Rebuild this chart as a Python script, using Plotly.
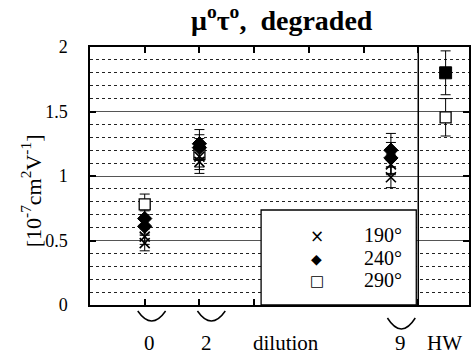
import plotly.graph_objects as go

# ---- data ----
categories = ["0", "2", "9", "HW"]
cat_pos = {"0": 1, "2": 2, "9": 5.5, "HW": 6.5}

s190_cat = ["0", "0", "2", "2", "9", "9"]
s190_val = [0.48, 0.53, 1.11, 1.15, 0.99, 1.09]
s190_err = [0.06, 0.06, 0.09, 0.08, 0.08, 0.08]

s240_cat = ["0", "0", "2", "2", "9", "9"]
s240_val = [0.61, 0.67, 1.22, 1.25, 1.14, 1.20]
s240_err = [0.06, 0.06, 0.10, 0.11, 0.12, 0.13]

s290_cat = ["0", "2", "HW"]
s290_val = [0.78, 1.17, 1.455]
s290_err = [0.08, 0.12, 0.145]

hw_cat = ["HW"]
hw_val = [1.80]
hw_err = [0.17]

legend_labels = ["190°", "240°", "290°"]
y_ticks = [0, 0.5, 1, 1.5, 2]
y_ticktext = ["0", "0.5", "1", "1.5", "2"]

W, H = 471, 356
L, R, T, B = 90, 471, 47, 305
FONT = "Times New Roman, Liberation Serif, DejaVu Serif, serif"

def px(x):
    return (x - L) / (R - L)

def py(y):
    return (B - y) / (B - T)

fig = go.Figure()

def add_series(cats, vals, errs, symbol, size, color, lcolor, lw, name):
    fig.add_trace(go.Scatter(
        x=[cat_pos[c] for c in cats], y=vals, mode="markers", name=name,
        showlegend=False,
        marker=dict(symbol=symbol, size=size, color=color,
                    line=dict(color=lcolor, width=lw)),
        error_y=dict(type="data", array=errs, visible=True, color="black",
                     thickness=1, width=5),
    ))

add_series(s290_cat, s290_val, s290_err, "square", 11, "white", "black", 1.3, legend_labels[2])
add_series(hw_cat, hw_val, hw_err, "square", 12, "black", "black", 1, "HW")
add_series(s190_cat, s190_val, s190_err, "x-thin-open", 10, "black", "black", 1.6, legend_labels[0])
add_series(s240_cat, s240_val, s240_err, "diamond", 11, "black", "black", 1, legend_labels[1])

fig.update_xaxes(
    range=[0, (R - L) / 55.0], showgrid=False, zeroline=False,
    tickvals=[1, 2, 3, 4, 5, 6], showticklabels=False,
    ticks="inside", ticklen=6, tickwidth=1.5, tickcolor="black",
    showline=True, linecolor="black", linewidth=1.5, mirror="ticks",
)
fig.update_yaxes(
    range=[0, 2], tickvals=y_ticks, ticktext=y_ticktext,
    ticks="inside", ticklen=6, tickwidth=2, tickcolor="black",
    showline=True, linecolor="black", linewidth=1.5, mirror="ticks",
    showgrid=True, gridcolor="#555555", gridwidth=1,
    zeroline=False,
    minor=dict(dtick=0.1, showgrid=True, gridcolor="#222222", griddash="dot", gridwidth=1),
    tickfont=dict(family=FONT, size=18, color="black"),
    ticklabelstandoff=17,
)

shapes = []
# separator between dilution and HW
shapes.append(dict(type="line", xref="x", yref="y", x0=6, x1=6, y0=0, y1=2,
                   line=dict(color="black", width=1.5), layer="above"))
# legend box
shapes.append(dict(type="rect", xref="paper", yref="paper",
                   x0=px(262), x1=px(418), y0=py(305), y1=py(210),
                   fillcolor="white", line=dict(color="black", width=1.3), layer="above"))
# braces under categories
for cx, ytop, depth, half in [(152, 311, 10, 14), (212, 311, 10, 14), (403, 318, 11, 14)]:
    x1, x2 = px(cx - half), px(cx + half)
    ctrl = py(ytop + 2 * depth)
    shapes.append(dict(type="path", xref="paper", yref="paper",
                       path=f"M {x1},{py(ytop)} Q {px(cx)},{ctrl} {x2},{py(ytop)}",
                       line=dict(color="black", width=1.5)))
fig.update_layout(shapes=shapes)

def note(text, x, y, size, family=FONT, xanchor="center", angle=0):
    return dict(text=text, x=px(x), y=py(y), xref="paper", yref="paper",
                xanchor=xanchor, yanchor="middle", showarrow=False, textangle=angle,
                font=dict(family=family, size=size, color="black"))

ann = []
ann.append(note("<b>μ<sup>o</sup>τ<sup>o</sup>,  degraded</b>", 283, 18, 28))
ann.append(note("[10<sup>-7</sup>cm<sup>2</sup>V<sup>-1</sup>]", 31, 191, 22, angle=-90))
for lab, cx in [("0", 150), ("2", 207), ("dilution", 287), ("9", 402), ("HW", 446)]:
    ann.append(note(lab, cx, 343, 21))
# manual legend
for glyph, lab, gy, gsize in [("×", legend_labels[0], 236, 17), ("◆", legend_labels[1], 259, 14), ("□", legend_labels[2], 281, 15)]:
    ann.append(note(glyph, 318, gy, gsize, family="DejaVu Sans"))
    ann.append(note(lab, 406, gy - 1, 20, xanchor="right"))
fig.update_layout(annotations=ann)

fig.update_layout(
    width=W, height=H,
    margin=dict(l=L, r=W - R, t=T, b=H - B),
    paper_bgcolor="white", plot_bgcolor="white",
    showlegend=False,
    font=dict(family=FONT),
)
fig.write_html("out.html")
